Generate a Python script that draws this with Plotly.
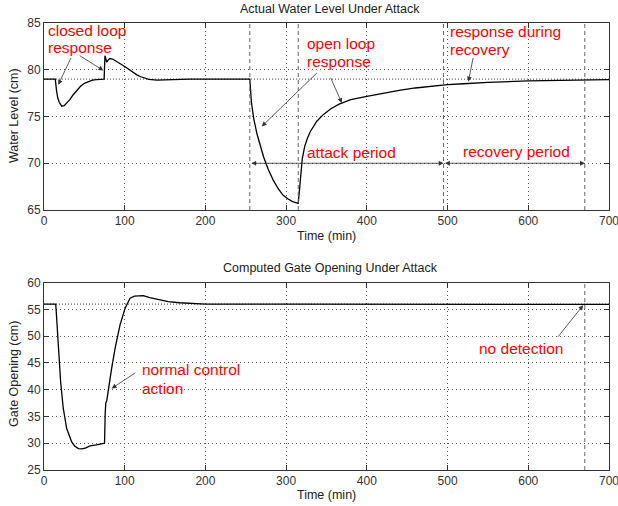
import plotly.graph_objects as go

# ---------------- data ----------------
level_t = [0, 14, 15.5, 17, 19, 22, 25, 28, 32, 36, 40, 45, 50, 55, 60, 65, 70, 74.5,
           75.5, 77.8, 79.5, 81.5, 85, 90, 95, 100, 105, 110, 115, 120, 125, 130, 140,
           150, 160, 180, 200, 230, 255,
           257, 260, 264, 268, 272, 278, 284, 290, 296, 302, 308, 315,
           316, 317.5, 320, 323, 326, 330, 338, 346, 355, 365, 380, 400, 420, 440,
           460, 480, 500, 520, 550, 600, 650, 700]
level_v = [79, 79, 77.8, 77.0, 76.5, 76.1, 76.15, 76.4, 76.8, 77.3, 77.75, 78.2, 78.55,
           78.75, 78.88, 78.95, 79, 79,
           81.5, 80.8, 81.05, 81.2, 81.15, 80.9, 80.6, 80.35, 80.05, 79.7, 79.45, 79.25,
           79.1, 78.98, 78.9, 78.9, 78.95, 79, 79, 79, 79,
           76.5, 74.7, 73.1, 71.8, 70.7, 69.3, 68.2, 67.3, 66.6, 66.2, 65.9, 65.7,
           66.8, 68.3, 70.5, 71.8, 72.6, 73.4, 74.5, 75.2, 75.8, 76.3, 76.8, 77.15,
           77.5, 77.8, 78.05, 78.25, 78.4, 78.5, 78.65, 78.8, 78.9, 78.95]

gate_t = [0, 14.5, 15, 17.7, 20.6, 23.9, 28.1, 34.3, 38, 42.5, 47, 52, 57, 65, 73.5, 75,
          75.8, 76.6, 77.7, 79.7, 83.8, 88, 94.2, 100.4, 106.6, 112, 117, 123, 131, 143,
          154, 168, 185, 200, 300, 400, 500, 600, 670, 700]
gate_v = [56, 56, 55, 49, 41.5, 36.5, 32.75, 30.25, 29.5, 29.0, 28.95, 29.15, 29.5, 29.7,
          29.94, 30.0, 35.5, 37.6, 37.9, 40.2, 44, 47.7, 52.1, 55.2, 57.1, 57.5, 57.6,
          57.6, 57.2, 56.85, 56.45, 56.25, 56.05, 56.0, 56.0, 56.0, 56.0, 56.0, 56.0, 55.95]

level_ref = 79
gate_ref = 56
level_events = [255, 315, 495, 670]
gate_events = [670]

x_ticks = [0, 100, 200, 300, 400, 500, 600, 700]
level_ticks = [65, 70, 75, 80, 85]
gate_ticks = [25, 30, 35, 40, 45, 50, 55, 60]

titles = ["Actual Water Level Under Attack", "Computed Gate Opening Under Attack"]
ylabels = ["Water Level (cm)", "Gate Opening (cm)"]
xlabel = "Time (min)"

# red note lines: (text, time, value)
notes_top = [("closed loop", 2.5, 84.18), ("response", 2.5, 82.36),
             ("open loop", 323.4, 82.86), ("response", 323.4, 80.89),
             ("response during", 500.2, 84.10), ("recovery", 500.2, 82.14),
             ("attack period", 323.4, 71.1), ("recovery period", 516.4, 71.24)]
notes_bot = [("normal control", 119, 43.85), ("action", 119, 40.29),
             ("no detection", 536.2, 47.72)]

# ---------------- figure ----------------
FONT = "Liberation Sans, Arial, sans-serif"
fig = go.Figure()
fig.add_trace(go.Scatter(x=level_t, y=level_v, mode="lines",
                         line=dict(color="black", width=1.3), xaxis="x", yaxis="y",
                         showlegend=False, hoverinfo="skip"))
fig.add_trace(go.Scatter(x=gate_t, y=gate_v, mode="lines",
                         line=dict(color="black", width=1.3), xaxis="x2", yaxis="y2",
                         showlegend=False, hoverinfo="skip"))

axcommon = dict(showline=True, linecolor="#333", linewidth=1, mirror="ticks",
                ticks="inside", ticklen=5, tickcolor="#333",
                showgrid=True, gridcolor="#555", gridwidth=1, griddash="1px,3px",
                zeroline=False, ticklabeloverflow="allow", automargin=False,
                tickfont=dict(size=12, color="#333", family=FONT))

PH = 506 - 23 - 36
top_dom = [1 - (210 - 23) / PH, 1]
bot_dom = [0, (470 - 282.7) / PH]

fig.update_layout(
    width=618, height=506,
    margin=dict(l=44, r=9, t=23, b=36),
    paper_bgcolor="white", plot_bgcolor="white",
    font=dict(family=FONT, size=12, color="#222"),
    xaxis=dict(axcommon, range=[0, 700], tickvals=x_ticks, anchor="y", domain=[0, 1]),
    yaxis=dict(axcommon, range=[65, 85], tickvals=level_ticks, anchor="x", domain=top_dom),
    xaxis2=dict(axcommon, range=[0, 700], tickvals=x_ticks, anchor="y2", domain=[0, 1]),
    yaxis2=dict(axcommon, range=[25, 60], tickvals=gate_ticks, anchor="x2", domain=bot_dom),
)

shapes = []
for ev in level_events:
    shapes.append(dict(type="line", xref="x", yref="y", x0=ev, x1=ev, y0=65, y1=85,
                       line=dict(color="#666", width=1, dash="4px,3px")))
for ev in gate_events:
    shapes.append(dict(type="line", xref="x2", yref="y2", x0=ev, x1=ev, y0=25, y1=60,
                       line=dict(color="#666", width=1, dash="4px,3px")))
shapes.append(dict(type="line", xref="x", yref="y", x0=0, x1=700, y0=level_ref, y1=level_ref,
                   line=dict(color="#444", width=1, dash="1px,2px"), layer="below"))
shapes.append(dict(type="line", xref="x2", yref="y2", x0=0, x1=700, y0=gate_ref, y1=gate_ref,
                   line=dict(color="#444", width=1, dash="1px,2px"), layer="below"))
fig.update_layout(shapes=shapes)

ann = []
def px_x(p):
    return (p - 44) / 565
def px_y(p):
    return 1 - (p - 23) / PH

TF = dict(size=12.5, color="#222", family=FONT)
ann.append(dict(text=titles[0], x=px_x(330), y=px_y(9), xref="paper", yref="paper",
                showarrow=False, font=TF, yanchor="middle"))
ann.append(dict(text=titles[1], x=px_x(330), y=px_y(268), xref="paper", yref="paper",
                showarrow=False, font=TF, yanchor="middle"))
ann.append(dict(text=xlabel, x=px_x(326), y=px_y(236), xref="paper", yref="paper",
                showarrow=False, font=TF, yanchor="middle"))
ann.append(dict(text=xlabel, x=px_x(326), y=px_y(495), xref="paper", yref="paper",
                showarrow=False, font=TF, yanchor="middle"))
ann.append(dict(text=ylabels[0], x=px_x(14), y=px_y(116), xref="paper", yref="paper",
                showarrow=False, textangle=-90, font=TF,
                xanchor="center", yanchor="middle"))
ann.append(dict(text=ylabels[1], x=px_x(14), y=px_y(374), xref="paper", yref="paper",
                showarrow=False, textangle=-90, font=TF,
                xanchor="center", yanchor="middle"))

RED = dict(size=15.5, color="#ff0000", family=FONT)
for txt, x, y in notes_top:
    ann.append(dict(text=txt, x=x, y=y, xref="x", yref="y", showarrow=False,
                    xanchor="left", yanchor="middle", align="left", font=RED))
for txt, x, y in notes_bot:
    ann.append(dict(text=txt, x=x, y=y, xref="x2", yref="y2", showarrow=False,
                    xanchor="left", yanchor="middle", align="left", font=RED))

ARR = dict(showarrow=True, arrowhead=2, arrowsize=1.2, arrowwidth=0.8,
           arrowcolor="#333", text="")
arrows_top = [(34.3, 81.43, 17.7, 78.4), (42.5, 81.6, 73.5, 79.93),
              (340, 79.82, 269.8, 73.94), (354.4, 79.29, 369, 76.44),
              (532, 81.43, 525.8, 78.75)]
for ax, ay, x, y in arrows_top:
    ann.append(dict(ARR, x=x, y=y, ax=ax, ay=ay, xref="x", yref="y", axref="x", ayref="y"))
for a, b in [(255, 495), (495, 670)]:
    ann.append(dict(ARR, x=b, y=70, ax=a, ay=70, xref="x", yref="y", axref="x", ayref="y",
                    arrowside="end+start", standoff=0, startstandoff=0))
arrows_bot = [(114.9, 43.34, 83.9, 40.24), (635.3, 49.6, 668, 55.8)]
for ax, ay, x, y in arrows_bot:
    ann.append(dict(ARR, x=x, y=y, ax=ax, ay=ay, xref="x2", yref="y2", axref="x2", ayref="y2"))

fig.update_layout(annotations=ann)
fig.write_html("out.html")
